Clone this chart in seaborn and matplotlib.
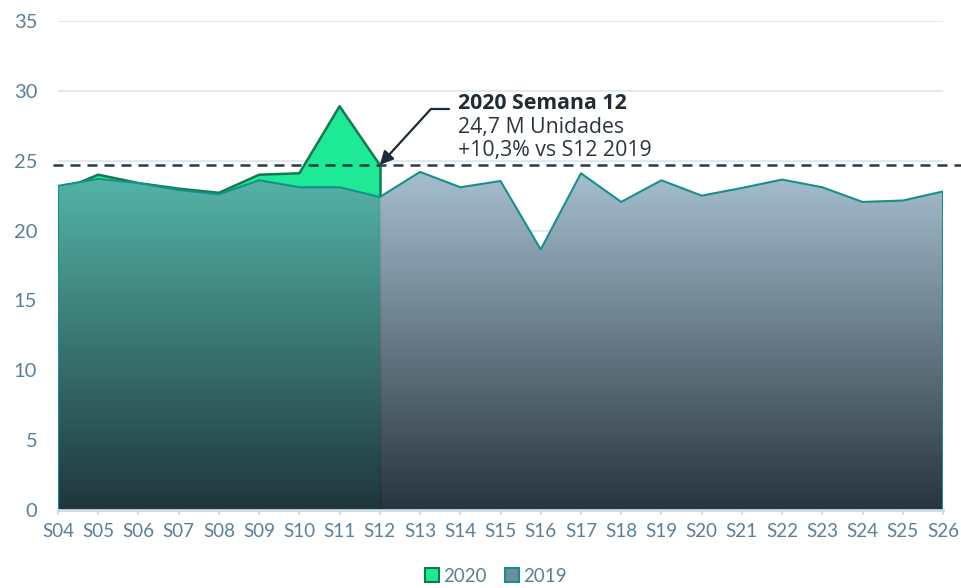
import numpy as np
import matplotlib.pyplot as plt
import seaborn as sns
from matplotlib.patches import Patch

# Weekly units (millions)
weeks = ["S04", "S05", "S06", "S07", "S08", "S09", "S10", "S11", "S12", "S13", "S14", "S15",
         "S16", "S17", "S18", "S19", "S20", "S21", "S22", "S23", "S24", "S25", "S26"]
units_2020 = [22.8, 24.0, 23.4, 23.0, 22.7, 24.0, 24.1, 28.9, 24.7]
units_2019 = [23.2, 23.7, 23.4, 22.9, 22.6, 23.6, 23.1, 23.1, 22.4, 24.2, 23.1, 23.55,
              18.65, 24.1, 22.05, 23.6, 22.5, 23.05, 23.65, 23.1, 22.05, 22.15, 22.8]
y_ticks = [0, 5, 10, 15, 20, 25, 30, 35]
highlight_value = 24.7
note_title = "2020 Semana 12"
note_lines = ["24,7 M Unidades", "+10,3% vs S12 2019"]

sns.set_theme(style="white")
plt.rcParams['font.family'] = ['Lato', 'DejaVu Sans']

label_color = '#5a7f9a'
green_fill = '#1de996'
green_line = '#127a4d'
teal_line = '#15918a'

fig = plt.figure(figsize=(9.61, 5.88), dpi=100)
ax = fig.add_axes([58 / 961, 1 - 510 / 588, 885 / 961, 489 / 588])

x20 = np.arange(len(units_2020))
x19 = np.arange(len(units_2019))
hi = len(units_2020) - 1

# 2020 area (solid green) under everything
ax.fill_between(x20, units_2020, color=green_fill, lw=0, zorder=1)
sns.lineplot(x=x20, y=units_2020, color=green_line, lw=1.8, ax=ax, zorder=2)
ax.vlines([x20[-1]], 0, units_2020[-1], color=green_line, lw=1.8, zorder=2)

# 2019 area with vertical gradient, teal where it overlaps 2020
poly = ax.fill_between(x19, units_2019, color='none', lw=0)
top = max(units_2019)
n_rows, n_cols = 256, (len(weeks) - 1) * 40
t = np.linspace(0, 1, n_rows)[:, None]
col_x = (np.arange(n_cols) + 0.5) * (len(weeks) - 1) / n_cols
img = np.zeros((n_rows, n_cols, 4))
for mask, c_top, c_bot in [(col_x < hi, (88, 180, 170), (31, 46, 56)),
                           (col_x >= hi, (162, 188, 205), (30, 43, 53))]:
    c_top = np.array(c_top) / 255
    c_bot = np.array(c_bot) / 255
    grad = c_bot + t * (c_top - c_bot)
    img[:, mask, :3] = grad[:, None, :]
img[..., 3] = 0.96
im = ax.imshow(img, extent=[0, len(weeks) - 1, 0, top], origin='lower',
               aspect='auto', interpolation='nearest', zorder=3)
im.set_clip_path(poly.get_paths()[0], transform=ax.transData)

sns.lineplot(x=x19, y=units_2019, color=teal_line, lw=1.5, ax=ax, zorder=4)
ax.vlines([x19[0], x19[-1]], 0, [units_2019[0], units_2019[-1]], color=teal_line, lw=1.5, zorder=4)

# reference dashed line
ax.plot([-0.006, 1.021], [highlight_value, highlight_value], transform=ax.get_yaxis_transform(),
        color='#2b3b47', lw=1.8, ls=(0, (4, 2.8)), clip_on=False, zorder=5)

# annotation
ax.annotate('', xy=(hi, highlight_value), xytext=(9.27, 28.7),
            arrowprops=dict(arrowstyle='-|>', color='#1f2b35', lw=1.6,
                            mutation_scale=20, shrinkA=0, shrinkB=0), zorder=6)
ax.plot([9.27, 9.72], [28.7, 28.7], color='#1f2b35', lw=1.6, zorder=6)
ax.text(9.94, 29.06, note_title, fontsize=15.3, fontweight='bold', color='#1f2b35',
        family=['Open Sans', 'DejaVu Sans'], va='center', ha='left', zorder=6)
for i, line in enumerate(note_lines):
    ax.text(9.94, 27.41 - i * 1.645, line, fontsize=15.3, color='#2a3440',
            family=['Open Sans', 'DejaVu Sans'], va='center', ha='left', zorder=6)

# axes styling
ax.set_xlim(0, len(weeks) - 1)
ax.set_ylim(0, 35)
ax.set_xticks(x19)
ax.set_xticklabels(weeks)
ax.set_yticks(y_ticks)
ax.yaxis.grid(True, color='#dde7ee', lw=1.3)
ax.set_axisbelow(True)
for s in ['top', 'right', 'left']:
    ax.spines[s].set_visible(False)
ax.spines['bottom'].set_color('#ccdce5')
ax.spines['bottom'].set_linewidth(2)
ax.spines['bottom'].set_zorder(7)
ax.tick_params(axis='x', length=3.5, width=1.3, color='#ccdce5', pad=6,
               labelsize=13.5, labelcolor=label_color, bottom=True)
ax.tick_params(axis='y', length=0, pad=15, labelsize=14.5, labelcolor=label_color)
ax.set_xlabel('')
ax.set_ylabel('')

handles = [Patch(facecolor=green_fill, edgecolor=green_line, lw=1.5, label='2020'),
           Patch(facecolor='#6f8ca0', edgecolor=teal_line, lw=1.5, label='2019')]
fig.legend(handles=handles, loc='center', bbox_to_anchor=(0.516, 0.02), ncol=2,
           frameon=False, handlelength=0.75, handleheight=0.75, handletextpad=0.2,
           columnspacing=1.0, fontsize=13.5, labelcolor=label_color)

fig.savefig('out.png', dpi=100)
